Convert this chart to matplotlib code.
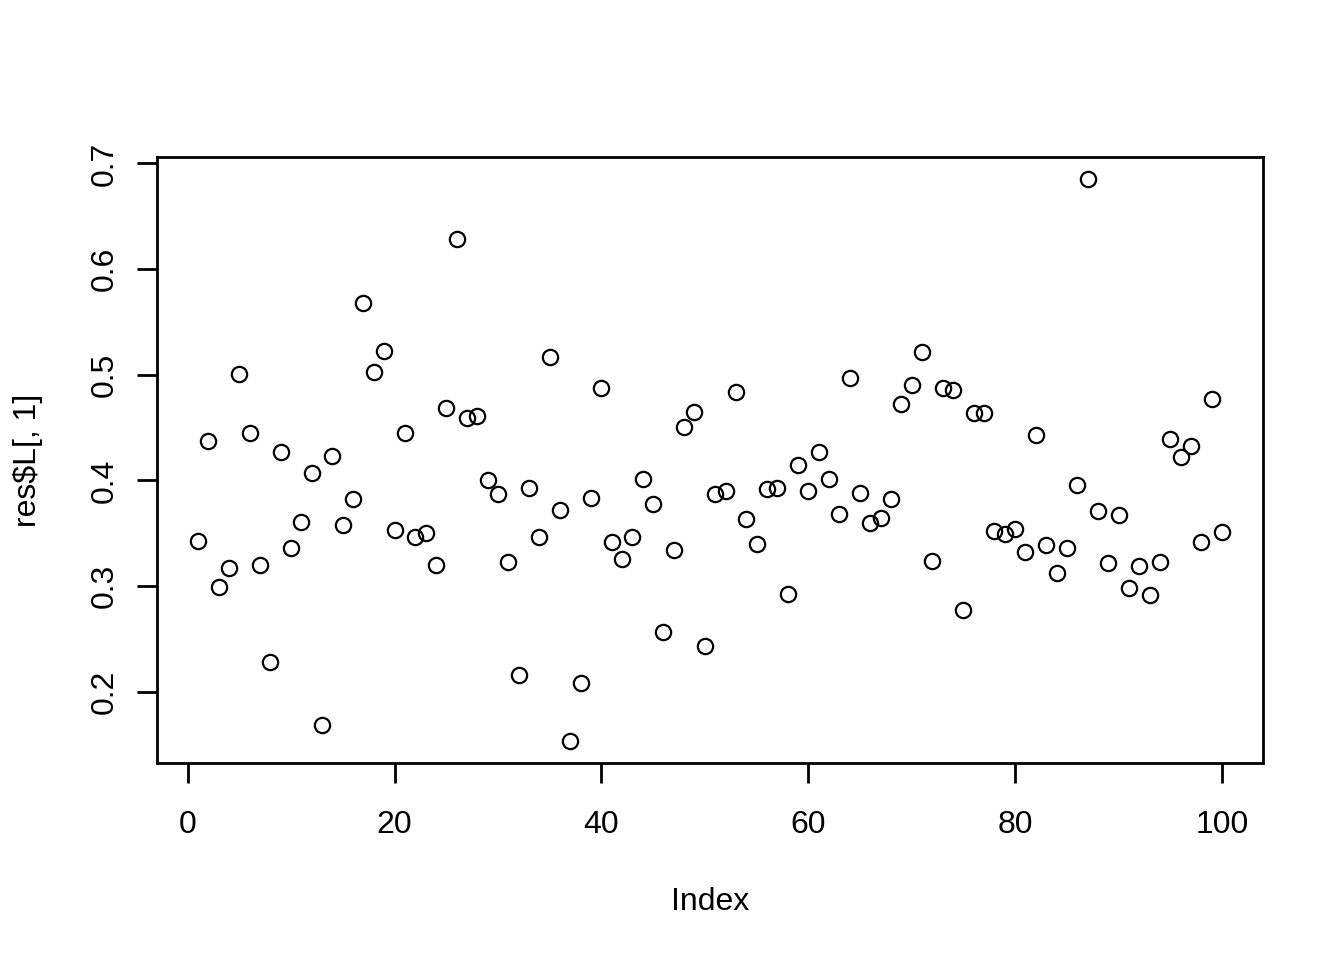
import numpy as np
import matplotlib.pyplot as plt

plt.rcParams['font.family'] = ['Liberation Sans', 'DejaVu Sans']

# values (res$L[, 1] by index)
index = np.arange(1, 101)
res_L1 = [0.3427, 0.437, 0.299, 0.317, 0.5006, 0.4448, 0.320, 0.2284, 0.4268, 0.336,
          0.3607, 0.407, 0.1688, 0.423, 0.3578, 0.3824, 0.5677, 0.5025, 0.5223, 0.3531,
          0.4448, 0.3465, 0.3503, 0.320, 0.4684, 0.6282, 0.459, 0.4609, 0.4004, 0.3871,
          0.3229, 0.2161, 0.3928, 0.3465, 0.5166, 0.372, 0.1537, 0.2085, 0.3834, 0.4873,
          0.3418, 0.3257, 0.3465, 0.4013, 0.3777, 0.2567, 0.3342, 0.4505, 0.4647, 0.2435,
          0.3871, 0.39, 0.4836, 0.3635, 0.3399, 0.3919, 0.3928, 0.2926, 0.4146, 0.39,
          0.4268, 0.4013, 0.3682, 0.4968, 0.3881, 0.3597, 0.3645, 0.3824, 0.4722, 0.4902,
          0.5214, 0.3238, 0.4873, 0.4854, 0.2775, 0.4637, 0.4637, 0.3522, 0.3493, 0.3541,
          0.3323, 0.4429, 0.3389, 0.3125, 0.3361, 0.3957, 0.6849, 0.3711, 0.3219, 0.3673,
          0.2983, 0.3191, 0.2917, 0.3229, 0.4391, 0.4221, 0.4325, 0.3418, 0.4769, 0.3512]
res_L1 = np.array(res_L1)

fig = plt.figure(figsize=(13.44, 9.6), dpi=100)
ax = fig.add_axes([157/1344, 1-763/960, (1263-157)/1344, (763-157)/960])

ax.plot(index, res_L1, 'o', mfc='none', mec='black', ms=11, mew=1.6)

# R style 4% padding
xr = index.max() - index.min()
yr = res_L1.max() - res_L1.min()
ax.set_xlim(index.min() - 0.04*xr, index.max() + 0.04*xr)
ax.set_ylim(res_L1.min() - 0.04*yr, res_L1.max() + 0.04*yr)

ax.set_xticks([0, 20, 40, 60, 80, 100])
ax.set_yticks([0.2, 0.3, 0.4, 0.5, 0.6, 0.7])
ax.set_yticklabels(['0.2', '0.3', '0.4', '0.5', '0.6', '0.7'], rotation=90, va='center')
ax.tick_params(direction='out', length=14.5, width=2, labelsize=23)
ax.tick_params(axis='x', pad=19)
ax.tick_params(axis='y', pad=12)

for s in ax.spines.values():
    s.set_linewidth(2)

ax.set_xlabel('Index', fontsize=23, labelpad=34)
ax.set_ylabel('res$L[, 1]', fontsize=23, labelpad=34)

fig.savefig('out.png', dpi=100)
